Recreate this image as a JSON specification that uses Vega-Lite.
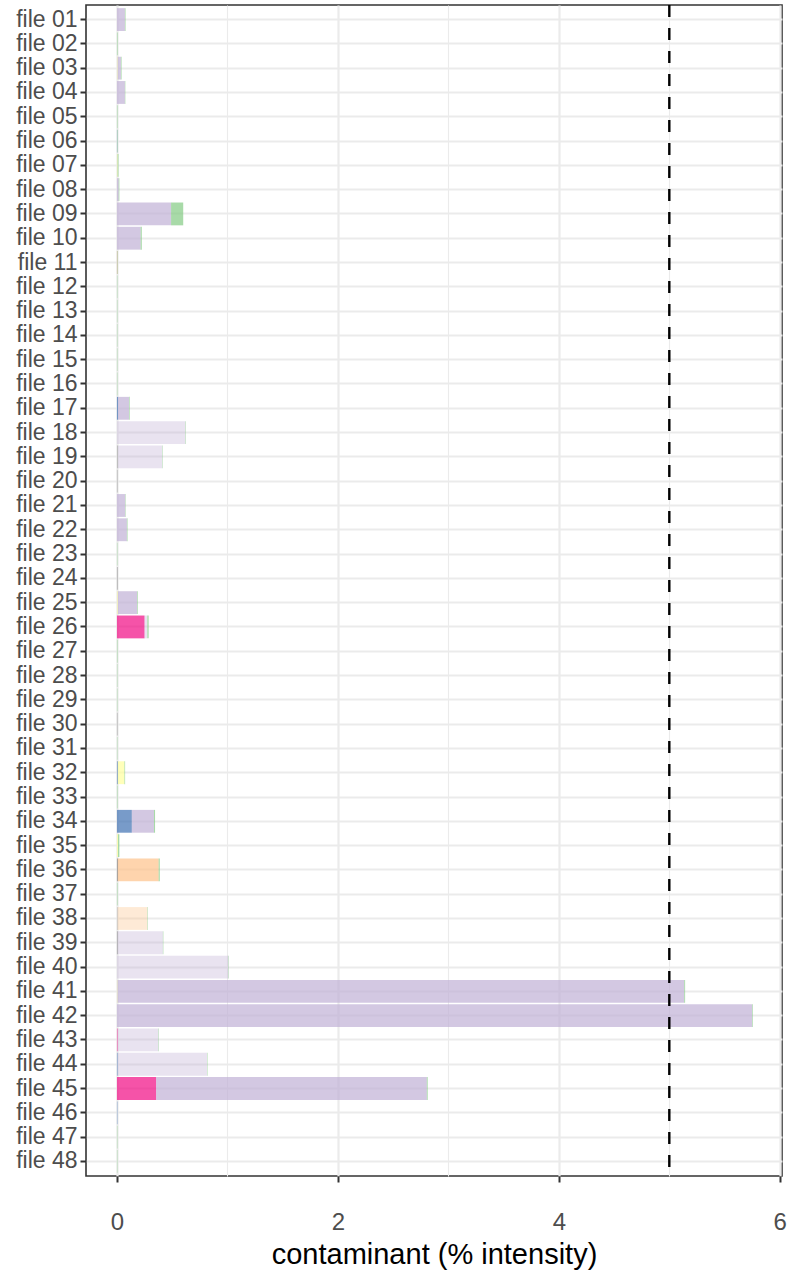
{
  "$schema": "https://vega.github.io/schema/vega-lite/v6.json",
  "width": 696,
  "height": 1171,
  "autosize": "none",
  "padding": {"left": 86, "top": 5, "right": 6, "bottom": 95},
  "background": "white",
  "config": {
    "font": "Liberation Sans",
    "view": {"stroke": "#333333", "strokeWidth": 1.6}
  },
  "layer": [
    {
      "data": {
        "values": [
          {"file": "file 01", "type": "C7", "value": 0.072, "conf": "high"},
          {"file": "file 01", "type": "C8", "value": 0.006, "conf": "high"},
          {"file": "file 02", "type": "C8", "value": 0.006, "conf": "high"},
          {"file": "file 03", "type": "C5", "value": 0.006, "conf": "high"},
          {"file": "file 03", "type": "C7", "value": 0.03, "conf": "high"},
          {"file": "file 03", "type": "C8", "value": 0.006, "conf": "high"},
          {"file": "file 04", "type": "C7", "value": 0.072, "conf": "high"},
          {"file": "file 04", "type": "C8", "value": 0.004, "conf": "high"},
          {"file": "file 05", "type": "C8", "value": 0.005, "conf": "high"},
          {"file": "file 06", "type": "C4", "value": 0.003, "conf": "high"},
          {"file": "file 06", "type": "C8", "value": 0.004, "conf": "high"},
          {"file": "file 07", "type": "C5", "value": 0.006, "conf": "high"},
          {"file": "file 07", "type": "C8", "value": 0.008, "conf": "high"},
          {"file": "file 08", "type": "C7", "value": 0.016, "conf": "high"},
          {"file": "file 08", "type": "C8", "value": 0.006, "conf": "high"},
          {"file": "file 09", "type": "C7", "value": 0.49, "conf": "high"},
          {"file": "file 09", "type": "C8", "value": 0.11, "conf": "high"},
          {"file": "file 10", "type": "C7", "value": 0.215, "conf": "high"},
          {"file": "file 10", "type": "C8", "value": 0.01, "conf": "high"},
          {"file": "file 11", "type": "C2", "value": 0.003, "conf": "high"},
          {"file": "file 11", "type": "C8", "value": 0.003, "conf": "high"},
          {"file": "file 12", "type": "C8", "value": 0.004, "conf": "high"},
          {"file": "file 13", "type": "C8", "value": 0.004, "conf": "high"},
          {"file": "file 14", "type": "C8", "value": 0.004, "conf": "high"},
          {"file": "file 15", "type": "C8", "value": 0.004, "conf": "high"},
          {"file": "file 16", "type": "C8", "value": 0.004, "conf": "high"},
          {"file": "file 17", "type": "C4", "value": 0.01, "conf": "high"},
          {"file": "file 17", "type": "C7", "value": 0.1, "conf": "high"},
          {"file": "file 17", "type": "C8", "value": 0.006, "conf": "high"},
          {"file": "file 18", "type": "C7", "value": 0.62, "conf": "low"},
          {"file": "file 18", "type": "C8", "value": 0.004, "conf": "high"},
          {"file": "file 19", "type": "C1", "value": 0.01, "conf": "low"},
          {"file": "file 19", "type": "C7", "value": 0.4, "conf": "low"},
          {"file": "file 19", "type": "C8", "value": 0.004, "conf": "high"},
          {"file": "file 20", "type": "C1", "value": 0.004, "conf": "high"},
          {"file": "file 21", "type": "C7", "value": 0.075, "conf": "high"},
          {"file": "file 21", "type": "C8", "value": 0.004, "conf": "high"},
          {"file": "file 22", "type": "C7", "value": 0.09, "conf": "high"},
          {"file": "file 22", "type": "C8", "value": 0.006, "conf": "high"},
          {"file": "file 23", "type": "C8", "value": 0.004, "conf": "high"},
          {"file": "file 24", "type": "C1", "value": 0.005, "conf": "high"},
          {"file": "file 25", "type": "C5", "value": 0.008, "conf": "high"},
          {"file": "file 25", "type": "C7", "value": 0.175, "conf": "high"},
          {"file": "file 25", "type": "C8", "value": 0.006, "conf": "high"},
          {"file": "file 26", "type": "C3", "value": 0.25, "conf": "high"},
          {"file": "file 26", "type": "C7", "value": 0.025, "conf": "low"},
          {"file": "file 26", "type": "C8", "value": 0.012, "conf": "high"},
          {"file": "file 27", "type": "C8", "value": 0.005, "conf": "high"},
          {"file": "file 28", "type": "C8", "value": 0.004, "conf": "high"},
          {"file": "file 29", "type": "C8", "value": 0.004, "conf": "high"},
          {"file": "file 30", "type": "C1", "value": 0.004, "conf": "high"},
          {"file": "file 31", "type": "C8", "value": 0.004, "conf": "high"},
          {"file": "file 32", "type": "C4", "value": 0.008, "conf": "high"},
          {"file": "file 32", "type": "C5", "value": 0.06, "conf": "high"},
          {"file": "file 32", "type": "C8", "value": 0.006, "conf": "high"},
          {"file": "file 33", "type": "C8", "value": 0.005, "conf": "high"},
          {"file": "file 34", "type": "C4", "value": 0.135, "conf": "high"},
          {"file": "file 34", "type": "C7", "value": 0.2, "conf": "high"},
          {"file": "file 34", "type": "C8", "value": 0.01, "conf": "high"},
          {"file": "file 35", "type": "C5", "value": 0.01, "conf": "high"},
          {"file": "file 35", "type": "C8", "value": 0.012, "conf": "high"},
          {"file": "file 36", "type": "C1", "value": 0.008, "conf": "high"},
          {"file": "file 36", "type": "C6", "value": 0.37, "conf": "high"},
          {"file": "file 36", "type": "C8", "value": 0.01, "conf": "high"},
          {"file": "file 37", "type": "C8", "value": 0.005, "conf": "high"},
          {"file": "file 38", "type": "C1", "value": 0.006, "conf": "low"},
          {"file": "file 38", "type": "C6", "value": 0.27, "conf": "low"},
          {"file": "file 38", "type": "C8", "value": 0.004, "conf": "high"},
          {"file": "file 39", "type": "C1", "value": 0.006, "conf": "high"},
          {"file": "file 39", "type": "C7", "value": 0.41, "conf": "low"},
          {"file": "file 39", "type": "C8", "value": 0.004, "conf": "high"},
          {"file": "file 40", "type": "C7", "value": 1.01, "conf": "low"},
          {"file": "file 40", "type": "C8", "value": 0.004, "conf": "high"},
          {"file": "file 41", "type": "C5", "value": 0.005, "conf": "high"},
          {"file": "file 41", "type": "C7", "value": 5.13, "conf": "high"},
          {"file": "file 41", "type": "C8", "value": 0.008, "conf": "high"},
          {"file": "file 42", "type": "C7", "value": 5.75, "conf": "high"},
          {"file": "file 42", "type": "C8", "value": 0.006, "conf": "high"},
          {"file": "file 43", "type": "C3", "value": 0.006, "conf": "high"},
          {"file": "file 43", "type": "C7", "value": 0.37, "conf": "low"},
          {"file": "file 43", "type": "C8", "value": 0.004, "conf": "high"},
          {"file": "file 44", "type": "C4", "value": 0.006, "conf": "high"},
          {"file": "file 44", "type": "C7", "value": 0.81, "conf": "low"},
          {"file": "file 44", "type": "C8", "value": 0.004, "conf": "high"},
          {"file": "file 45", "type": "C3", "value": 0.355, "conf": "high"},
          {"file": "file 45", "type": "C7", "value": 2.45, "conf": "high"},
          {"file": "file 45", "type": "C8", "value": 0.008, "conf": "high"},
          {"file": "file 46", "type": "C4", "value": 0.004, "conf": "high"},
          {"file": "file 47", "type": "C8", "value": 0.004, "conf": "high"},
          {"file": "file 48", "type": "C8", "value": 0.004, "conf": "high"}
        ]
      },
      "mark": {"type": "bar"},
      "encoding": {
        "y": {
          "field": "file",
          "type": "nominal",
          "sort": "ascending",
          "scale": {"paddingInner": 0.06, "paddingOuter": 0.13},
          "axis": {
            "title": null,
            "domain": false,
            "grid": true,
            "bandPosition": 0.5,
            "gridColor": "#EBEBEB",
            "gridWidth": 2.2,
            "tickColor": "#333333",
            "tickWidth": 2,
            "tickSize": 6,
            "labelFontSize": 23,
            "labelColor": "#4D4D4D",
            "labelPadding": 3
          }
        },
        "x": {
          "field": "value",
          "type": "quantitative",
          "stack": "zero",
          "title": "contaminant (% intensity)",
          "scale": {"domain": [-0.28, 6.02], "nice": false, "zero": false},
          "axis": {
            "values": [0, 1, 2, 3, 4, 5, 6],
            "labelExpr": "datum.value % 2 == 0 ? format(datum.value, 'd') : ''",
            "labelBound": false,
            "labelOverlap": false,
            "domain": false,
            "grid": true,
            "gridColor": "#EBEBEB",
            "gridWidth": {"condition": {"test": "datum.value % 2 == 1", "value": 1.1}, "value": 2.2},
            "tickColor": "#333333",
            "tickWidth": 2,
            "tickSize": 6,
            "tickOpacity": {"condition": {"test": "datum.value % 2 == 1", "value": 0}, "value": 1},
            "labelFontSize": 24,
            "labelColor": "#4D4D4D",
            "labelPadding": 28,
            "titleFontSize": 29,
            "titleColor": "black",
            "titleFontWeight": "normal",
            "titlePadding": 6
          }
        },
        "color": {
          "field": "type",
          "type": "nominal",
          "scale": {
            "domain": ["C1", "C2", "C3", "C4", "C5", "C6", "C7", "C8"],
            "range": ["#666666", "#BF5B17", "#F0027F", "#386CB0", "#FFFF99", "#FDC086", "#BEAED4", "#7FC97F"]
          },
          "legend": null
        },
        "opacity": {
          "field": "conf",
          "type": "nominal",
          "scale": {"domain": ["high", "low"], "range": [0.68, 0.34]},
          "legend": null
        },
        "order": {"field": "type", "sort": "ascending"}
      }
    },
    {
      "data": {"values": [{"threshold": 5}]},
      "mark": {"type": "rule", "color": "black", "strokeWidth": 2.4, "strokeDash": [12, 11]},
      "encoding": {
        "x": {"field": "threshold", "type": "quantitative"}
      }
    }
  ]
}
